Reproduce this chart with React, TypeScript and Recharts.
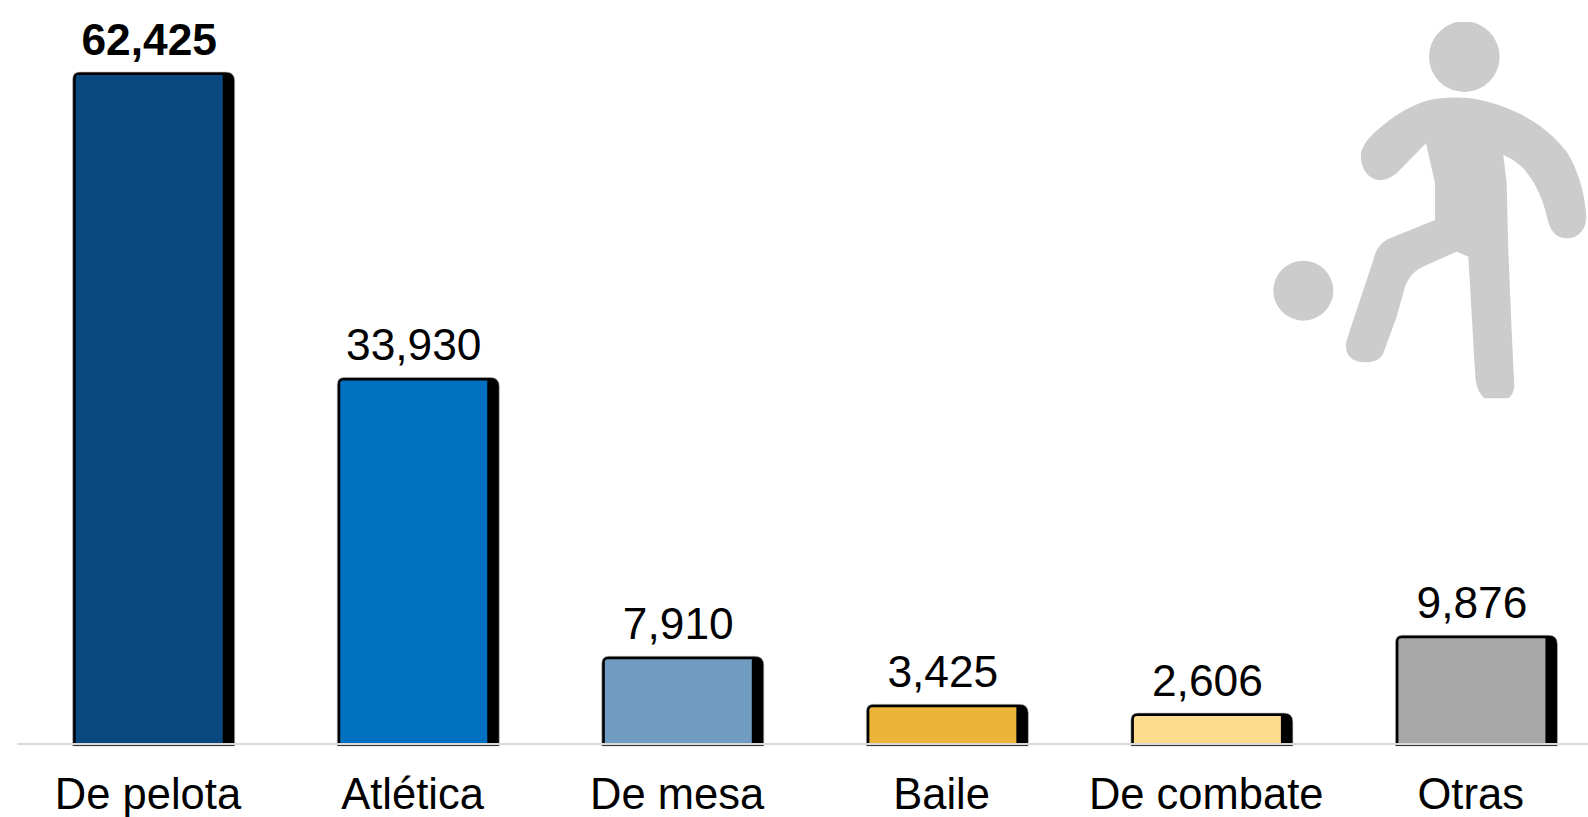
import React from 'react';
import { BarChart, Bar, XAxis, YAxis, LabelList, ReferenceLine } from 'recharts';

const categories = ['De pelota', 'Atlética', 'De mesa', 'Baile', 'De combate', 'Otras'];
const values = [62425, 33930, 7910, 3425, 2606, 9876];
const colors = ['#0A497F', '#0070C0', '#719CC1', '#ECB438', '#FEDC8E', '#A8A8A8'];

const data = categories.map((name, i) => ({ name, value: values[i], fill: colors[i] }));

const FONT = '"Liberation Sans", Arial, sans-serif';

// bar with a black bevel: 3px left/top, 12px on the right
const BevelBar = (props: any) => {
  const { x, y, width, height, fill } = props;
  const top = y - 3;
  const bottom = y + height + 2;
  const right = x + width;
  const outer = `M${x},${bottom} L${x},${top + 7} Q${x},${top} ${x + 7},${top} L${right - 9},${top} Q${right},${top} ${right},${top + 9} L${right},${bottom} Z`;
  return (
    <g>
      <path d={outer} fill="#000" stroke="#BBBBBB" strokeWidth={0.6} />
      <path
        d={`M${x + 3},${y + height} L${x + 3},${y + 3} Q${x + 3},${y} ${x + 6},${y} L${x + 150},${y} L${x + 150},${y + height} Z`}
        fill={fill}
      />
    </g>
  );
};

const ValueLabel = (props: any) => {
  const { x, y, value, index } = props;
  return (
    <text
      x={x + 76.5}
      y={y - 20}
      textAnchor="middle"
      fontFamily={FONT}
      fontSize={44.3}
      fontWeight={index === 0 ? 700 : 400}
      fill="#000"
    >
      {Number(value).toLocaleString('en-US')}
    </text>
  );
};

const CategoryTick = (props: any) => {
  const { x, payload } = props;
  return (
    <text x={x - 6} y={809} textAnchor="middle" fontFamily={FONT} fontSize={43.5} fill="#000">
      {payload.value}
    </text>
  );
};

// kicking figure, traced in crop coordinates
const Figure = () => (
  <svg width={1588} height={817} style={{ position: 'absolute', left: 0, top: 0 }}>
    <defs>
      <clipPath id="figureClip">
        <rect x={0} y={36} width={1014} height={1129} />
      </clipPath>
    </defs>
    <g transform="translate(1250,10) scale(0.3333)" fill="#CCCCCC" clipPath="url(#figureClip)">
      <circle cx={643} cy={140} r={106} />
      <circle cx={160} cy={842} r={90} />
      <path d="M333,430 C340,395 370,370 400,345 C450,305 510,270 570,265 C640,258 700,268 760,290 C830,315 900,360 950,425 C985,480 1005,550 1009,620 C1008,660 985,685 950,685 C915,685 900,660 892,625 C880,570 860,525 825,480 C805,460 785,445 760,435 L770,520 L775,720 L785,960 L793,1130 C790,1160 770,1175 735,1175 C700,1175 680,1145 676,1100 L655,740 L620,725 L530,765 C495,780 480,795 465,830 L440,920 L400,1030 C390,1050 370,1058 340,1057 C305,1055 285,1035 288,1000 L300,960 L370,750 C378,715 395,695 420,685 L555,630 L555,520 L528,400 L440,490 C420,505 405,512 385,510 C350,505 330,470 333,430 Z" />
    </g>
  </svg>
);

export default function App() {
  return (
    <div
      style={{
        position: 'absolute',
        left: 0,
        top: 0,
        width: 1588,
        height: 817,
        overflow: 'hidden',
        background: '#fff',
      }}
    >
      <BarChart
        width={1609}
        height={817}
        data={data}
        margin={{ top: 47.5, right: 0, bottom: 13, left: 17 }}
        barSize={162}
        style={{ position: 'absolute', left: 0, top: 0 }}
      >
        <XAxis
          dataKey="name"
          axisLine={false}
          tickLine={false}
          height={60}
          interval={0}
          padding={{ left: 4.7, right: 0 }}
          tick={CategoryTick}
        />
        <YAxis hide domain={[0, 65000]} />
        <Bar dataKey="value" isAnimationActive={false} shape={BevelBar}>
          <LabelList dataKey="value" content={ValueLabel} />
        </Bar>
        <ReferenceLine y={0} stroke="#D9D9D9" strokeWidth={2} />
      </BarChart>
      <Figure />
    </div>
  );
}
